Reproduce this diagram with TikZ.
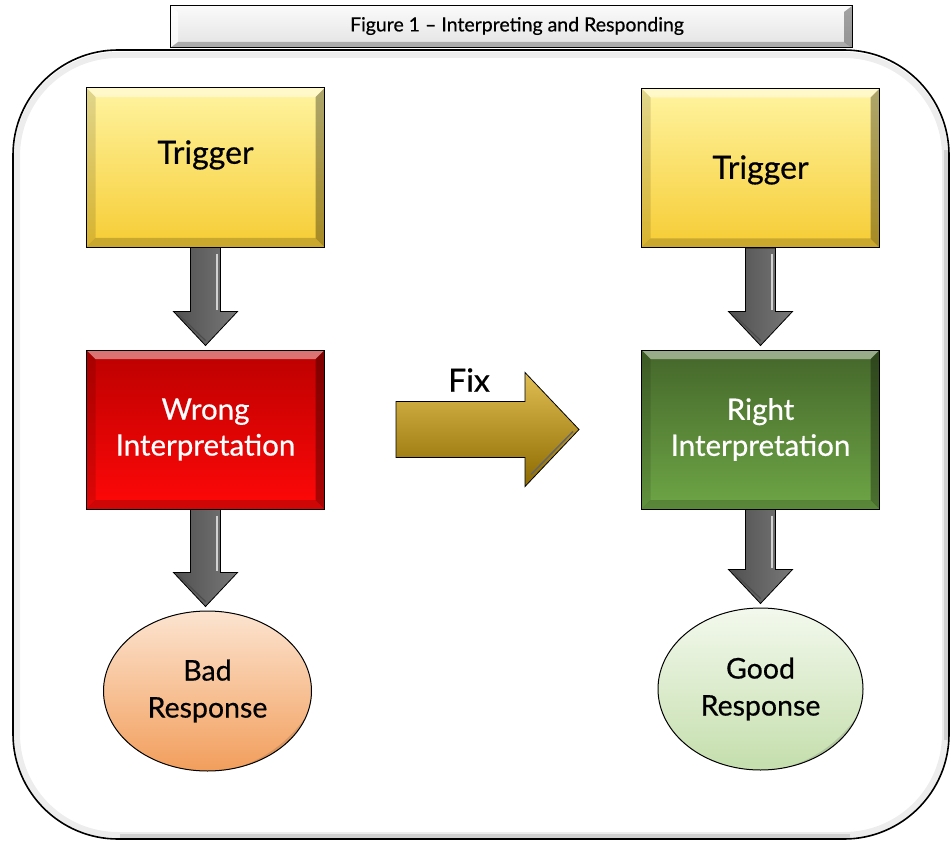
\documentclass[tikz,border=0pt]{standalone}
\usepackage{fontspec}
\setmainfont{Lato}[FakeBold=0.5]
\usetikzlibrary{shapes.geometric,calc}
\definecolor{ylTop}{RGB}{255,244,160}
\definecolor{ylBot}{RGB}{246,204,52}
\definecolor{rdTop}{RGB}{188,0,0}
\definecolor{rdBot}{RGB}{255,8,8}
\definecolor{gnTop}{RGB}{68,102,42}
\definecolor{gnBot}{RGB}{110,166,70}
\definecolor{orTop}{RGB}{252,228,208}
\definecolor{orBot}{RGB}{242,158,92}
\definecolor{lgTop}{RGB}{243,249,237}
\definecolor{lgBot}{RGB}{196,222,172}
\definecolor{arrDark}{RGB}{80,80,80}
\definecolor{arrMid}{RGB}{150,150,150}
\definecolor{arrLight}{RGB}{120,120,120}
\definecolor{fxTop}{RGB}{224,190,84}
\definecolor{fxMid}{RGB}{204,158,14}
\definecolor{fxBot}{RGB}{140,106,0}
\newcommand\ppb{path picture bounding box}
\newcommand\grayarrow[2]{%
  \shade[draw=black, line width=0.8pt, left color=arrDark, middle color=arrMid, right color=arrLight]
    let \p1=(#1.south), \p2=(#2.north) in
    (\x1-15pt,\y1) -- (\x1+15pt,\y1) -- (\x1+15pt,\y2+38pt) -- (\x1+32pt,\y2+38pt)
    -- (\x1,\y2+4pt) -- (\x1-32pt,\y2+38pt) -- (\x1-15pt,\y2+38pt) -- cycle;
  \draw[gray!35, line width=2pt]
    let \p1=(#1.south), \p2=(#2.north) in
    (\x1+11pt,\y1-6pt) -- (\x1+11pt,\y2+40pt);
  \draw[black!70, line width=1.2pt]
    let \p1=(#1.south), \p2=(#2.north) in
    (\x1-26pt,\y2+34pt) -- (\x1,\y2+9pt);
}
\tikzset{
  bevel/.style={path picture={
    \fill[white,opacity=.45] (\ppb.north west) -- (\ppb.north east) -- ([shift={(-9pt,-9pt)}]\ppb.north east) -- ([shift={(9pt,-9pt)}]\ppb.north west) -- cycle;
    \fill[black,opacity=.12] (\ppb.north west) -- ([shift={(9pt,-9pt)}]\ppb.north west) -- ([shift={(9pt,9pt)}]\ppb.south west) -- (\ppb.south west) -- cycle;
    \fill[black,opacity=.32] (\ppb.north east) -- ([shift={(-9pt,-9pt)}]\ppb.north east) -- ([shift={(-9pt,9pt)}]\ppb.south east) -- (\ppb.south east) -- cycle;
    \fill[black,opacity=.18] (\ppb.south west) -- ([shift={(9pt,9pt)}]\ppb.south west) -- ([shift={(-9pt,9pt)}]\ppb.south east) -- (\ppb.south east) -- cycle;
  }},
  bbox/.style={rectangle, draw=black, line width=1pt, minimum width=238pt, minimum height=159pt, inner sep=0pt, bevel},
  oval/.style={ellipse, draw=black, line width=1pt, minimum width=208pt, minimum height=160pt, inner sep=0pt,
    path picture={\draw[black,opacity=.12,line width=8pt] ([shift={(60pt,0pt)}]\ppb.south west) to[bend right=35] ([shift={(0pt,55pt)}]\ppb.south east);}},
  bigtxt/.style={font=\fontsize{32}{36}\selectfont},
  midtxt/.style={font=\fontsize{29.5}{36}\selectfont, align=center},
}
\begin{document}
\begin{tikzpicture}[x=1pt,y=-1pt]
\useasboundingbox (0,0) rectangle (952,842);
% outer frame
\draw[line width=6pt, black!7, rounded corners=101pt] (17,55) rectangle (945,835);
\draw[line width=4pt, black!18] (946,150) -- (946,740) (120,836) -- (850,836);
\draw[line width=1.6pt, black, rounded corners=105pt] (13,50) rectangle (949,839);
% title
\node[rectangle, draw=black, line width=1pt, top color=gray!4, bottom color=gray!22, minimum width=682pt, minimum height=42pt, inner sep=0pt,
  path picture={
    \fill[white,opacity=.7] (\ppb.north west) -- ([shift={(8pt,-6pt)}]\ppb.north west) -- ([shift={(8pt,6pt)}]\ppb.south west) -- (\ppb.south west) -- cycle;
    \fill[black,opacity=.35] (\ppb.north east) -- ([shift={(-8pt,-6pt)}]\ppb.north east) -- ([shift={(-8pt,6pt)}]\ppb.south east) -- (\ppb.south east) -- cycle;
    \fill[black,opacity=.25] (\ppb.south west) -- ([shift={(8pt,6pt)}]\ppb.south west) -- ([shift={(-8pt,6pt)}]\ppb.south east) -- (\ppb.south east) -- cycle;
  }] (title) at (511,27) {};
\node[font=\fontsize{19.5}{22}\selectfont] (titletxt) at (517,26) {Figure 1 – Interpreting and Responding};
% boxes
\node[bbox, top color=ylTop, bottom color=ylBot] (t1) at (205.5,167.5) {};
\node[bigtxt] (t1txt) at (205.5,155) {Trigger};
\node[bbox, top color=ylTop, bottom color=ylBot] (t2) at (760.5,168) {};
\node[bigtxt] (t2txt) at (760.5,170) {Trigger};
\node[bbox, top color=rdTop, bottom color=rdBot, text=white, midtxt] (w1) at (205.5,429.5) {Wrong\\Interpretation};
\node[bbox, top color=gnTop, bottom color=gnBot, text=white, midtxt] (r2) at (760.5,429.5) {Right\\Interpretation};
\node[oval, top color=orTop, bottom color=orBot, midtxt, font=\fontsize{28.5}{37}\selectfont] (b1) at (207.5,691) {Bad\\Response};
\node[oval, top color=lgTop, bottom color=lgBot, midtxt, font=\fontsize{28.5}{37}\selectfont, minimum width=205pt, minimum height=162pt] (g2) at (760.5,689) {Good\\Response};
% gray arrows
\grayarrow{t1}{w1}
\grayarrow{w1}{b1}
\grayarrow{t2}{r2}
\grayarrow{r2}{g2}
% fix arrow
\shade[draw=black, line width=0.8pt, top color=fxTop, middle color=fxMid, bottom color=fxBot]
  let \p1=(w1.east), \p2=(r2.west) in
  (\x1+71pt,\y1+28pt) -- (\x2-116pt,\y1+28pt) -- (\x2-116pt,\y1+57pt) -- (\x2-62pt,\y1)
  -- (\x2-116pt,\y1-57pt) -- (\x2-116pt,\y1-28pt) -- (\x1+71pt,\y1-28pt) -- cycle;
\draw[black!60, line width=1.5pt] let \p1=(w1.east), \p2=(r2.west) in
  (\x2-110pt,\y1-45pt) -- (\x2-68pt,\y1-2pt);
\node[font=\fontsize{32}{34}\selectfont] (fix) at (469,380) {Fix};
\end{tikzpicture}
\end{document}
